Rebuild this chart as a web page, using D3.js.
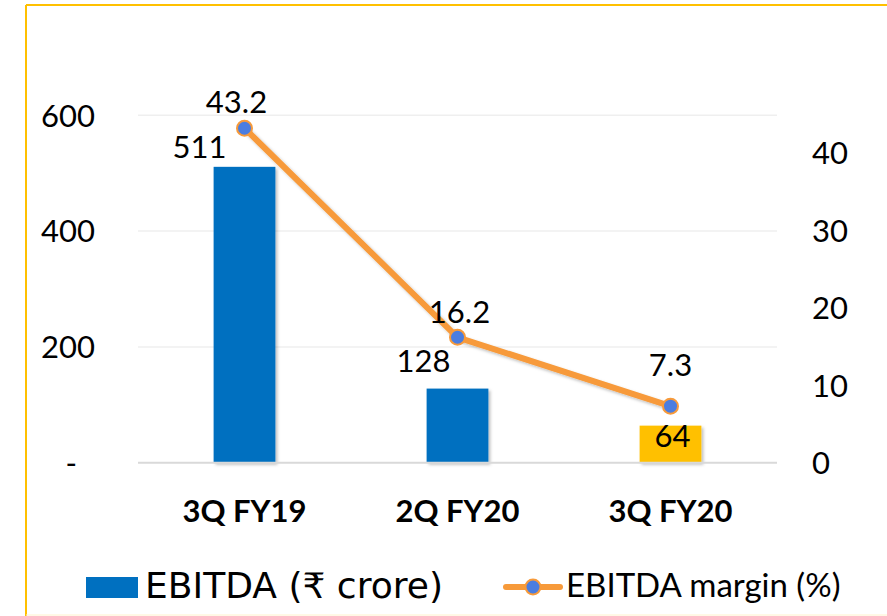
<!DOCTYPE html>
<meta charset="utf-8">
<title>EBITDA chart</title>
<style>
body { margin: 0; background: #fff; }
svg { display: block; }
.lbl { font-family: Lato, "Noto Sans", sans-serif; font-size: 31px; fill: #000; }
</style>
<body>
<script src="https://d3js.org/d3.v7.min.js"></script>
<script>

var categories = ["3Q FY19", "2Q FY20", "3Q FY20"];
var ebitda = [511, 128, 64];
var margin = [43.2, 16.2, 7.3];
var leftTicks = [0, 200, 400, 600];
var rightTicks = [0, 10, 20, 30, 40];
var barColors = ["#0070C0", "#0070C0", "#FFC000"];

// label nudges (px) relative to bar top / marker
var barLabelOff = [[-45, -9], [-34, -17], [2, 21]];
var lineLabelOff = [[-8, -15], [2, -14], [0, -30]];

var width = 887, height = 616;

var svg = d3.select("body").append("svg")
    .attr("width", width)
    .attr("height", height);

var defs = svg.append("defs");
defs.append("filter").attr("id", "shadow")
    .attr("x", "-20%").attr("y", "-20%").attr("width", "140%").attr("height", "140%")
  .append("feDropShadow")
    .attr("dx", 2).attr("dy", 2).attr("stdDeviation", 1.5)
    .attr("flood-color", "#000").attr("flood-opacity", 0.25);

// frame
svg.append("line").attr("x1", 26).attr("x2", 887).attr("y1", 5).attr("y2", 5)
    .attr("stroke", "#FFC000").attr("stroke-width", 2);
svg.append("line").attr("x1", 26).attr("x2", 26).attr("y1", 5).attr("y2", 616)
    .attr("stroke", "#FFC000").attr("stroke-width", 2);
svg.append("line").attr("x1", 26).attr("x2", 887).attr("y1", 615).attr("y2", 615)
    .attr("stroke", "#FFF2CC").attr("stroke-width", 1);

var x = d3.scalePoint()
    .domain(categories)
    .range([138, 777])
    .padding(0.5);

var barW = x.step() * 0.29;

var yL = d3.scaleLinear().domain([0, 600]).range([462.7, 115.3]);
var yR = d3.scaleLinear().domain([0, 44.87]).range([462.7, 115.3]);

// gridlines
svg.append("g").selectAll("line")
    .data(leftTicks.filter(function(d) { return d > 0; }))
  .enter().append("line")
    .attr("x1", 138).attr("x2", 777)
    .attr("y1", function(d) { return yL(d); })
    .attr("y2", function(d) { return yL(d); })
    .attr("stroke", "#EFEFEF").attr("stroke-width", 1.5);

// left axis
var axL = svg.append("g")
    .attr("transform", "translate(95,0)")
    .call(d3.axisLeft(yL).tickValues(leftTicks).tickSize(0).tickPadding(0)
      .tickFormat(function(d) { return d === 0 ? "-" : d; }));
axL.select(".domain").remove();
axL.selectAll("text").attr("class", "lbl").attr("dy", "0.35em")
    .attr("x", function(d) { return d === 0 ? -18 : 0; });

// right axis
var axR = svg.append("g")
    .attr("transform", "translate(812,0)")
    .call(d3.axisRight(yR).tickValues(rightTicks).tickSize(0).tickPadding(0));
axR.select(".domain").remove();
axR.selectAll("text").attr("class", "lbl").attr("dy", "0.35em");

// bars
svg.append("g").selectAll("rect")
    .data(ebitda)
  .enter().append("rect")
    .attr("x", function(d, i) { return x(categories[i]) - barW / 2; })
    .attr("y", function(d) { return yL(d); })
    .attr("width", barW)
    .attr("height", function(d) { return yL(0) - yL(d); })
    .attr("fill", function(d, i) { return barColors[i]; })
    .attr("filter", "url(#shadow)");

// baseline
svg.append("line")
    .attr("x1", 138).attr("x2", 777)
    .attr("y1", yL(0)).attr("y2", yL(0))
    .attr("stroke", "#D9D9D9").attr("stroke-width", 2);

// x labels
svg.append("g").selectAll("text")
    .data(categories)
  .enter().append("text")
    .attr("class", "lbl")
    .attr("x", function(d) { return x(d); })
    .attr("y", 522)
    .attr("text-anchor", "middle")
    .attr("font-weight", "bold")
    .text(function(d) { return d; });

// margin line
var line = d3.line()
    .x(function(d, i) { return x(categories[i]); })
    .y(function(d) { return yR(d); });

svg.append("path")
    .datum(margin)
    .attr("d", line)
    .attr("fill", "none")
    .attr("stroke", "#F79A3A")
    .attr("stroke-width", 6)
    .attr("stroke-linejoin", "round")
    .attr("filter", "url(#shadow)");

svg.append("g").selectAll("circle")
    .data(margin)
  .enter().append("circle")
    .attr("cx", function(d, i) { return x(categories[i]); })
    .attr("cy", function(d) { return yR(d); })
    .attr("r", 7.5)
    .attr("fill", "#4A7DE0")
    .attr("stroke", "#F79A3A")
    .attr("stroke-width", 2);

// bar value labels
svg.append("g").selectAll("text")
    .data(ebitda)
  .enter().append("text")
    .attr("class", "lbl")
    .attr("text-anchor", "middle")
    .attr("x", function(d, i) { return x(categories[i]) + barLabelOff[i][0]; })
    .attr("y", function(d, i) { return yL(d) + barLabelOff[i][1]; })
    .text(function(d) { return d; });

// margin value labels
svg.append("g").selectAll("text")
    .data(margin)
  .enter().append("text")
    .attr("class", "lbl")
    .attr("text-anchor", "middle")
    .attr("x", function(d, i) { return x(categories[i]) + lineLabelOff[i][0]; })
    .attr("y", function(d, i) { return yR(d) + lineLabelOff[i][1]; })
    .text(function(d) { return d.toFixed(1); });

// legend
var leg = svg.append("g");
leg.append("rect").attr("x", 86).attr("y", 577).attr("width", 52).attr("height", 21)
    .attr("fill", "#0070C0");
leg.append("text").attr("x", 145).attr("y", 598)
    .attr("font-family", "'DejaVu Sans', sans-serif").attr("font-size", 35)
    .attr("textLength", 298).attr("lengthAdjust", "spacingAndGlyphs")
    .text("EBITDA (₹ crore)");
leg.append("line").attr("x1", 506).attr("x2", 560).attr("y1", 587).attr("y2", 587)
    .attr("stroke", "#F79A3A").attr("stroke-width", 6).attr("stroke-linecap", "round");
leg.append("circle").attr("cx", 533).attr("cy", 587).attr("r", 7.5)
    .attr("fill", "#4A7DE0").attr("stroke", "#F79A3A").attr("stroke-width", 2);
leg.append("text").attr("x", 566).attr("y", 597)
    .attr("class", "lbl").style("font-size", "33px")
    .text("EBITDA margin (%)");

</script>
</body>
